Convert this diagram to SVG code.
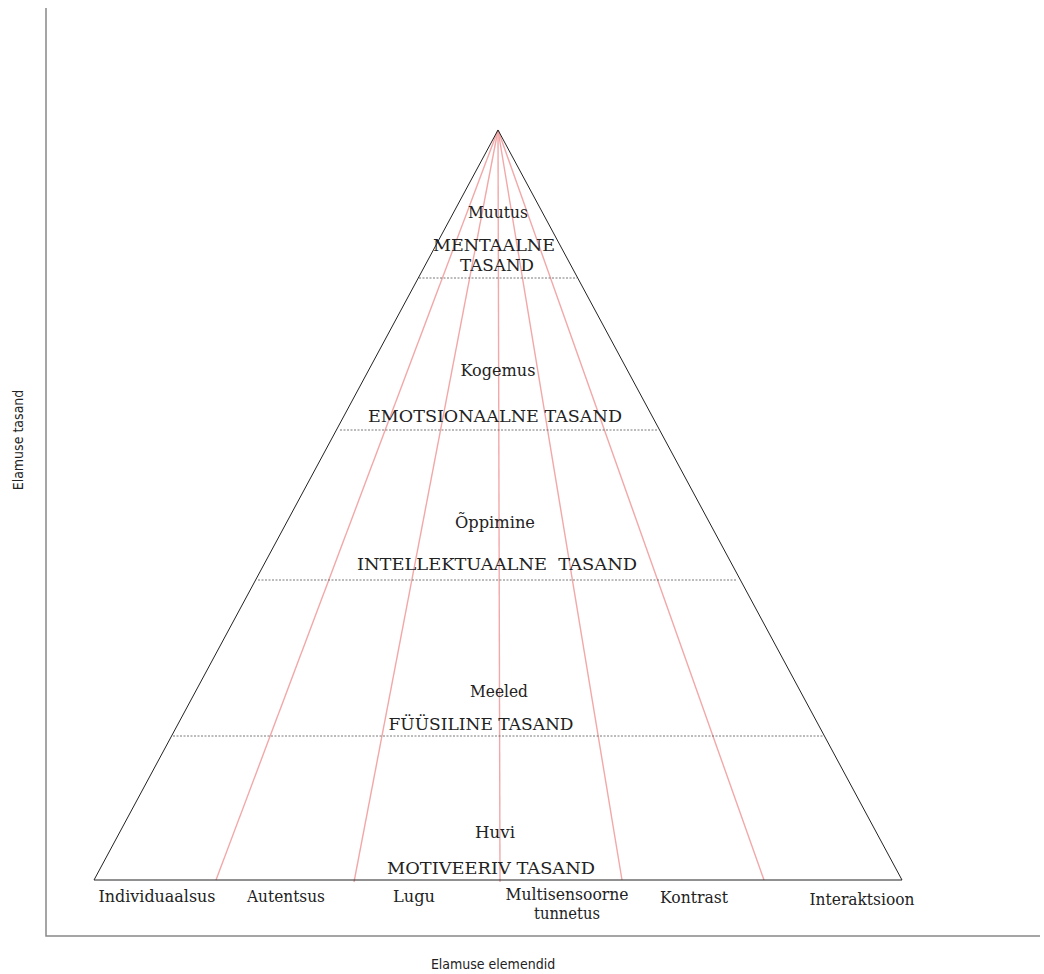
<svg xmlns="http://www.w3.org/2000/svg" width="1044" height="974" viewBox="0 0 1044 974">
<style>
.t{font-family:"DejaVu Serif","Liberation Serif",serif;font-size:17px;fill:#222;text-anchor:middle}
.b{font-family:"DejaVu Serif","Liberation Serif",serif;font-size:16px;fill:#222;text-anchor:middle}
.ax{font-family:"DejaVu Sans Condensed","Liberation Sans",sans-serif;font-size:14px;fill:#222;text-anchor:middle}
.red{stroke:#f2a8a8;stroke-width:1.4;fill:none}
.dash{stroke:#555;stroke-width:0.8;stroke-dasharray:2 1.5;fill:none}
</style>
<rect width="1044" height="974" fill="#fff"/>
<g id="axes" stroke="#888" stroke-width="1.5" fill="none">
<path d="M46 8 V936 H1040"/>
</g>
<g id="connectors">
<line class="red" x1="498" y1="130" x2="216" y2="880"/>
<line class="red" x1="498" y1="130" x2="354" y2="882"/>
<line class="red" x1="498" y1="130" x2="500" y2="882"/>
<line class="red" x1="498" y1="130" x2="622" y2="880"/>
<line class="red" x1="498" y1="130" x2="764" y2="880"/>
</g>
<g id="pyramid">
<path d="M498 130 L94 880 L902 880 Z" fill="none" stroke="#222" stroke-width="1"/>
<line class="dash" x1="419" y1="278" x2="577" y2="278"/>
<line class="dash" x1="340" y1="430" x2="657" y2="430"/>
<line class="dash" x1="258" y1="580" x2="737" y2="580"/>
<line class="dash" x1="173" y1="736" x2="824" y2="736"/>
</g>
<g id="level-mentaalne">
<text class="t" x="498" y="218" textLength="60" lengthAdjust="spacingAndGlyphs">Muutus</text>
<text class="t" x="494" y="251" textLength="122" lengthAdjust="spacingAndGlyphs">MENTAALNE</text>
<text class="t" x="497" y="271" textLength="74" lengthAdjust="spacingAndGlyphs">TASAND</text>
</g>
<g id="level-emotsionaalne">
<text class="t" x="498" y="376" textLength="75" lengthAdjust="spacingAndGlyphs">Kogemus</text>
<text class="t" x="495" y="422" textLength="254" lengthAdjust="spacingAndGlyphs">EMOTSIONAALNE TASAND</text>
</g>
<g id="level-intellektuaalne">
<text class="t" x="495" y="528" textLength="80" lengthAdjust="spacingAndGlyphs">Õppimine</text>
<text class="t" x="497" y="570" textLength="280" lengthAdjust="spacingAndGlyphs" xml:space="preserve">INTELLEKTUAALNE  TASAND</text>
</g>
<g id="level-fyysiline">
<text class="t" x="499" y="697" textLength="58" lengthAdjust="spacingAndGlyphs">Meeled</text>
<text class="t" x="481" y="730" textLength="185" lengthAdjust="spacingAndGlyphs">FÜÜSILINE TASAND</text>
</g>
<g id="level-motiveeriv">
<text class="t" x="495" y="838" textLength="40" lengthAdjust="spacingAndGlyphs">Huvi</text>
<text class="t" x="491" y="874" textLength="208" lengthAdjust="spacingAndGlyphs">MOTIVEERIV TASAND</text>
</g>
<g id="elements">
<text class="b" x="157" y="902" textLength="117" lengthAdjust="spacingAndGlyphs">Individuaalsus</text>
<text class="b" x="286" y="902" textLength="78" lengthAdjust="spacingAndGlyphs">Autentsus</text>
<text class="b" x="414" y="902" textLength="42" lengthAdjust="spacingAndGlyphs">Lugu</text>
<text class="b" x="567" y="900" textLength="123" lengthAdjust="spacingAndGlyphs">Multisensoorne</text>
<text class="b" x="567" y="919" textLength="66" lengthAdjust="spacingAndGlyphs">tunnetus</text>
<text class="b" x="694" y="903" textLength="68" lengthAdjust="spacingAndGlyphs">Kontrast</text>
<text class="b" x="862" y="905" textLength="105" lengthAdjust="spacingAndGlyphs">Interaktsioon</text>
</g>
<g id="axis-labels">
<text class="ax" x="0" y="0" transform="translate(23 440) rotate(-90)">Elamuse tasand</text>
<text class="ax" x="493" y="969">Elamuse elemendid</text>
</g>
</svg>
